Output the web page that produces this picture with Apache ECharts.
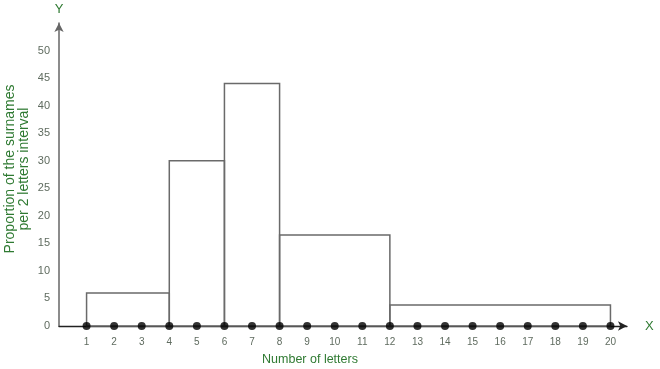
<!DOCTYPE html>
<html>
<head>
<meta charset="utf-8">
<script src="https://cdn.jsdelivr.net/npm/echarts@6/dist/echarts.min.js"></script>
<style>html,body{margin:0;padding:0;background:#fff}#c{width:660px;height:369px}</style>
</head>
<body>
<div id="c"></div>
<script>
// Histogram bins (number of letters) and heights
var binStart = [1, 4, 6, 8, 12];
var binEnd = [4, 6, 8, 12, 20];
var heights = [6, 30, 44, 16.5, 3.8];
// Dots on the x axis
var dotX = [1, 2, 3, 4, 5, 6, 7, 8, 9, 10, 11, 12, 13, 14, 15, 16, 17, 18, 19, 20];
var dotY = [0, 0, 0, 0, 0, 0, 0, 0, 0, 0, 0, 0, 0, 0, 0, 0, 0, 0, 0, 0];
var yTicks = [0, 5, 10, 15, 20, 25, 30, 35, 40, 45, 50];

var rectData = binStart.map(function (s, i) { return [s, binEnd[i], heights[i]]; });
var dotData = dotX.map(function (x, i) { return [x, dotY[i]]; });

var chart = echarts.init(document.getElementById('c'));
var green = '#2f7a32';
var tickColor = '#5f6b5f';
chart.setOption({
  animation: false,
  textStyle: { fontFamily: 'Liberation Sans, Arial, sans-serif' },
  grid: { left: 59, right: 33, top: 23, bottom: 43, containLabel: false },
  xAxis: {
    type: 'value', min: 0, max: 20.6, interval: 1,
    name: 'X', nameLocation: 'end', nameGap: 18,
    nameTextStyle: { color: green, fontSize: 13, verticalAlign: 'middle' },
    axisLine: { show: true, lineStyle: { color: '#222', width: 1.3 }, symbol: ['none', 'arrow'], symbolSize: [7, 9], symbolOffset: [0, 0] },
    axisTick: { show: false },
    splitLine: { show: false },
    axisLabel: {
      color: tickColor, fontSize: 10, margin: 11,
      showMaxLabel: false,
      formatter: function (v) { return (v >= 1 && v <= 20 && Math.round(v) === v) ? String(v) : ''; }
    }
  },
  yAxis: {
    type: 'value', min: 0, max: 55, interval: 5,
    name: 'Y', nameLocation: 'end', nameGap: 7,
    nameTextStyle: { color: green, fontSize: 13 },
    axisLine: { show: true, lineStyle: { color: '#666', width: 1.5 }, symbol: ['none', 'arrow'], symbolSize: [7, 9] },
    axisTick: { show: false },
    splitLine: { show: false },
    axisLabel: {
      color: tickColor, fontSize: 11, margin: 9,
      formatter: function (v) { return yTicks.indexOf(v) >= 0 ? String(v) : ''; }
    }
  },
  graphic: [
    {
      type: 'text', x: 310, y: 360, style: {
        text: 'Number of letters', fill: green, fontSize: 12.5,
        fontFamily: 'Liberation Sans, Arial, sans-serif', align: 'center', verticalAlign: 'middle'
      }
    },
    {
      type: 'text', x: 17, y: 169, rotation: Math.PI / 2, style: {
        text: 'Proportion of the surnames\nper 2 letters interval', fill: green, fontSize: 14, lineHeight: 14,
        fontFamily: 'Liberation Sans, Arial, sans-serif', align: 'center', verticalAlign: 'middle'
      }
    }
  ],
  series: [
    {
      type: 'custom',
      data: rectData,
      encode: { x: [0, 1], y: 2 },
      renderItem: function (params, api) {
        var p0 = api.coord([api.value(0), 0]);
        var p1 = api.coord([api.value(1), api.value(2)]);
        return {
          type: 'rect',
          shape: { x: p0[0], y: p1[1], width: p1[0] - p0[0], height: p0[1] - p1[1] },
          style: { fill: 'rgba(255,255,255,0)', stroke: '#6a6a6a', lineWidth: 1.5 }
        };
      },
      z: 2
    },
    {
      type: 'scatter',
      data: dotData,
      symbolSize: 8,
      itemStyle: { color: '#000' },
      z: 3
    }
  ]
});
</script>
</body>
</html>
